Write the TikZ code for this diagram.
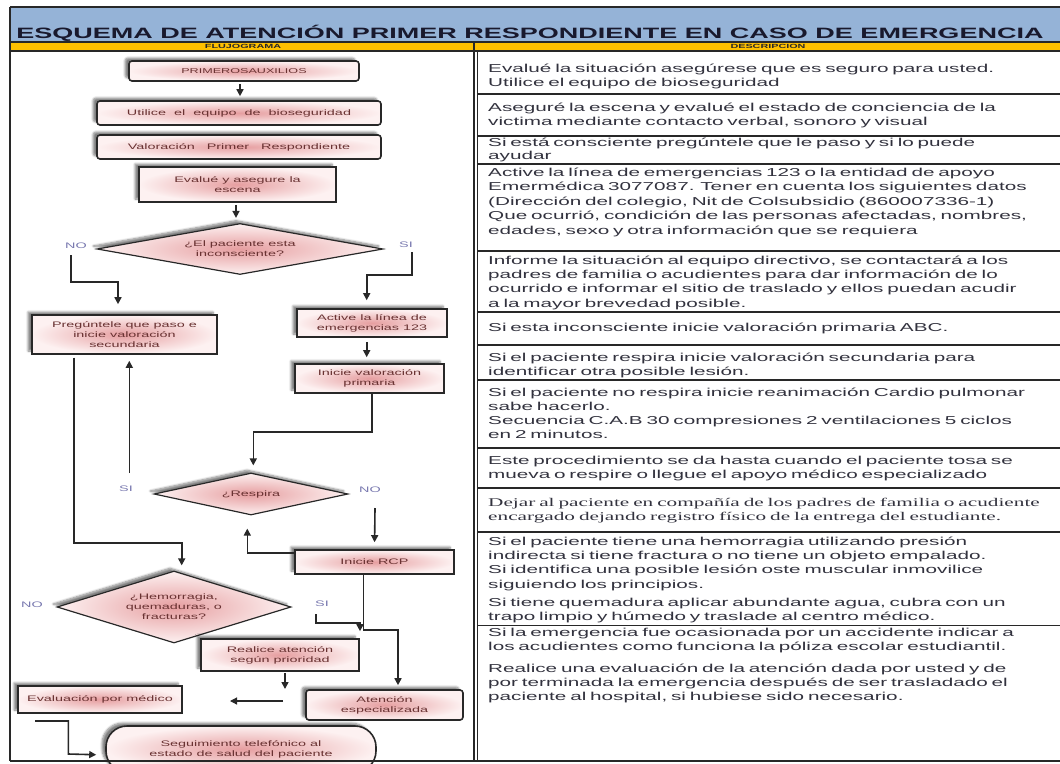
\documentclass[tikz,border=0pt]{standalone}
\usepackage{fontspec}
\setmainfont[FakeStretch=1.8]{Liberation Sans}
\newfontfamily\serifx[FakeStretch=1.8]{Liberation Serif}
\usetikzlibrary{arrows.meta,shapes.geometric,shadows.blur}
\definecolor{bandblue}{RGB}{149,179,215}
\definecolor{bandorange}{RGB}{255,192,0}
\definecolor{framec}{RGB}{40,40,40}
\definecolor{boxtext}{RGB}{105,50,50}
\definecolor{pinkin}{RGB}{230,158,160}
\definecolor{pinkout}{RGB}{253,241,241}
\definecolor{labelc}{RGB}{120,120,175}
\definecolor{desctext}{RGB}{50,50,62}
\definecolor{titlec}{RGB}{25,25,45}
\newcommand{\jl}[1]{\makebox[562pt][s]{#1}}
\tikzset{
  flow/.style={draw=framec, line width=1.6pt, shading=radial, inner color=pinkin,
    outer color=pinkout, text=boxtext, font=\fontsize{8}{10}\selectfont, align=center,
    inner sep=0pt, blur shadow={shadow xshift=-4pt, shadow yshift=3pt, shadow opacity=50, shadow blur steps=6}},
  rflow/.style={flow, rounded corners=3pt},
  dflow/.style={flow, diamond, line width=1.2pt},
  lbl/.style={text=labelc, font=\fontsize{8}{10}\selectfont, inner sep=0pt},
  arr/.style={draw=framec, line width=1.6pt, -{Triangle[length=7pt,width=7pt]}},
  tline/.style={draw=framec, line width=1.6pt},
  desc/.style={anchor=base west, inner sep=0pt, text width=562pt, align=left,
    text=desctext, font=\fontsize{11.5}{14.4}\selectfont},
}
\begin{document}
\begin{tikzpicture}[x=1pt,y=-1pt]
\useasboundingbox (0,0) rectangle (1060,763);
% table bands
\fill[bandblue] (10,7) rectangle (1060,42);
\fill[bandorange] (10,42) rectangle (1060,51);
\draw[tline] (10,7) -- (1060,7);
\draw[tline] (10,42) -- (1060,42);
\draw[tline] (10,51) -- (1060,51);
\draw[tline] (10,7) -- (10,761);
\draw[tline, line width=1.2pt] (474,42) -- (474,761);
\draw[tline, line width=1.2pt] (477.5,51) -- (477.5,761);
\foreach \yy in {94,136,164,251,312,345,380,448,488,532,625.5}
  \draw[tline] (477.5,\yy) -- (1060,\yy);
% title and headers
\node[anchor=base, inner sep=0pt, font=\bfseries\fontsize{15}{18}\selectfont, text=titlec] (title) at (530,38.3)
  {ESQUEMA DE ATENCIÓN PRIMER RESPONDIENTE EN CASO DE EMERGENCIA};
\node[inner sep=0pt, font=\bfseries\fontsize{6}{7}\selectfont, text=framec] (h1) at (243,46.7) {FLUJOGRAMA};
\node[inner sep=0pt, font=\bfseries\fontsize{6}{7}\selectfont, text=framec] (h2) at (768,46.7) {DESCRIPCION};
% description texts
\node[desc] (t1) at (488,72) {Evalué la situación asegúrese que es seguro para usted.\\Utilice el equipo de bioseguridad};
\node[desc] (t2) at (488,111) {\jl{Aseguré la escena y evalué el estado de conciencia de la}\\victima mediante contacto verbal, sonoro y visual};
\node[desc] (t3) at (488,146.5) {\jl{Si está consciente pregúntele que le paso y si lo puede}\\[-1.4pt]ayudar};
\node[desc] (t4) at (488,176.5) {\jl{Active la línea de emergencias 123 o la entidad de apoyo}\\\jl{Emermédica 3077087. Tener en cuenta los siguientes datos}\\\jl{(Dirección del colegio, Nit de Colsubsidio (860007336-1)}\\\jl{Que ocurrió, condición de las personas afectadas, nombres,}\\edades, sexo y otra información que se requiera};
\node[desc] (t5) at (488,264) {\jl{Informe la situación al equipo directivo, se contactará a los}\\\jl{padres de familia o acudientes para dar información de lo}\\\jl{ocurrido e informar el sitio de traslado y ellos puedan acudir}\\a la mayor brevedad posible.};
\node[desc] (t6) at (488,331) {Si esta inconsciente inicie valoración primaria ABC.};
\node[desc] (t7) at (488,361) {\jl{Si el paciente respira inicie valoración secundaria para}\\identificar otra posible lesión.};
\node[desc] (t8) at (488,396) {\jl{Si el paciente no respira inicie reanimación Cardio pulmonar}\\sabe hacerlo.};
\node[desc] (t9) at (488,424) {\jl{Secuencia C.A.B 30 compresiones 2 ventilaciones 5 ciclos}\\en 2 minutos.};
\node[desc] (t10) at (488,464) {\jl{Este procedimiento se da hasta cuando el paciente tosa se}\\mueva o respire o llegue el apoyo médico especializado};
\node[desc, font=\serifx\fontsize{11.8}{14.6}\selectfont] (t11) at (488,506) {\jl{Dejar al paciente en compañía de los padres de familia o acudiente}\\encargado dejando registro físico de la entrega del estudiante.};
\node[desc] (t12) at (488,545) {\jl{Si el paciente tiene una hemorragia utilizando presión}\\indirecta si tiene fractura o no tiene un objeto empalado.\\\jl{Si identifica una posible lesión oste muscular inmovilice}\\siguiendo los principios.};
\node[desc] (t13) at (488,606.5) {\jl{Si tiene quemadura aplicar abundante agua, cubra con un}\\[-0.8pt]trapo limpio y húmedo y traslade al centro médico.};
\node[desc] (t14) at (488,636.5) {\jl{Si la emergencia fue ocasionada por un accidente indicar a}\\los acudientes como funciona la póliza escolar estudiantil.};
\node[desc] (t15) at (488,672) {\jl{Realice una evaluación de la atención dada por usted y de}\\\jl{por terminada la emergencia después de ser trasladado el}\\paciente al hospital, si hubiese sido necesario.};
% flowchart nodes
\node[rflow, minimum width=230pt, minimum height=20pt, font=\fontsize{7}{9}\selectfont] (pa) at (244,71) {PRIMEROSAUXILIOS};
\node[rflow, minimum width=284pt, minimum height=24pt] (ut) at (239,113) {Utilice~ el~ equipo~ de~ bioseguridad};
\node[rflow, minimum width=284pt, minimum height=24pt] (va) at (239,147) {Valoración~~ Primer~~ Respondiente};
\node[flow, minimum width=197pt, minimum height=35pt] (ev) at (237.5,184.5) {Evalué y asegure la\\escena};
\node[dflow, minimum width=286pt, minimum height=51pt, aspect=5.6] (d1) at (240,249) {¿El paciente esta\\inconsciente?};
\node[lbl] (no1) at (76,246) {NO};
\node[lbl] (si1) at (406,245) {SI};
\node[flow, minimum width=185pt, minimum height=39pt] (pr) at (124.5,334.5) {Pregúntele que paso e\\inicie valoración\\secundaria};
\node[flow, minimum width=150pt, minimum height=28pt] (ac) at (372,323) {Active la línea de\\emergencias 123};
\node[flow, minimum width=149pt, minimum height=29pt] (iv) at (369.5,378.5) {Inicie valoración\\primaria};
\node[dflow, minimum width=194pt, minimum height=42pt, aspect=4.6] (d2) at (251,494) {¿Respira};
\node[lbl] (si2) at (126,489) {SI};
\node[lbl] (no2) at (370,490) {NO};
\node[flow, minimum width=159pt, minimum height=24pt] (rcp) at (374.5,562) {Inicie RCP};
\node[dflow, minimum width=234pt, minimum height=72pt, aspect=3.25] (d3) at (174,607) {¿Hemorragia,\\quemaduras, o\\fracturas?};
\node[lbl] (no3) at (32,605) {NO};
\node[lbl] (si3) at (322,604) {SI};
\node[flow, minimum width=158pt, minimum height=32pt] (re) at (280,655) {Realice atención\\según prioridad};
\node[flow, minimum width=164pt, minimum height=27pt] (em) at (100,699.5) {Evaluación por médico};
\node[rflow, minimum width=157pt, minimum height=30pt] (ae) at (384.5,705) {Atención\\especializada};
\node[flow, rounded corners=21pt, minimum width=270pt, minimum height=46pt] (seg) at (241,749) {Seguimiento telefónico al\\estado de salud del paciente};
% free ends
\coordinate (cno1) at (71,255);
\coordinate (csi1) at (412,252);
\coordinate (csi2) at (129.3,473);
\coordinate (cno2) at (375,508);
\coordinate (csi3) at (316,614);
\coordinate (cre) at (285,689);
\coordinate (cla1) at (283,701);
\coordinate (cla2) at (230,701);
\coordinate (cem) at (35,721);
% connectors
\draw[arr, shorten <=2pt, shorten >=4pt] ([xshift=-4pt]pa.south) -- ([xshift=1pt]ut.north);
\draw[arr, shorten <=2pt, shorten >=5pt] ([xshift=-1.5pt]ev.south) -- ([xshift=-4pt]d1.north);
\draw[arr, shorten >=10pt] (cno1) -- (71,282) -- (118,282) -- ([xshift=-6.5pt]pr.north);
\draw[arr, shorten >=8pt] (csi1) -- (412,275) -- (366.7,275) -- ([xshift=-5.3pt]ac.north);
\draw[arr, shorten <=4pt, shorten >=6pt] ([xshift=-5.3pt]ac.south) -- ([xshift=-2.8pt]iv.north);
\draw[arr, shorten >=5pt] ([xshift=-50.5pt,yshift=-2.7pt]pr.south) -- (74,543) -- (181.7,543) -- ([xshift=7.7pt]d3.north);
\draw[arr, shorten >=6pt] (csi2) -- ([xshift=4.8pt]pr.south);
\draw[arr, shorten >=7pt] ([xshift=2.2pt]iv.south) -- (371.7,431.7) -- (253.3,431.7) -- ([xshift=2.3pt]d2.north);
\draw[arr, shorten >=7pt] (cno2) -- (rcp.north);
\draw[arr, shorten >=13pt] ([yshift=9pt]rcp.west) -- (247.3,553) -- ([xshift=-3.7pt]d2.south);
\draw[arr, shorten >=4pt] ([xshift=-11.2pt]rcp.south) -- (363.3,630) -- (398,630) -- ([xshift=13.5pt]ae.north);
\draw[arr, shorten >=7pt] (csi3) -- (316,623) -- (360,623) -- ([xshift=80pt]re.north);
\draw[arr, shorten <=1pt] ([xshift=5pt]re.south) -- (cre);
\draw[arr, line width=1.2pt] (cla1) -- (cla2);
\draw[arr, shorten >=9pt] (cem) -- (68.3,721) -- (68.3,754) -- ([yshift=-6pt]seg.west);
% bottom frame line over everything
\draw[tline] (10,761) -- (1060,761);
\end{tikzpicture}
\end{document}
